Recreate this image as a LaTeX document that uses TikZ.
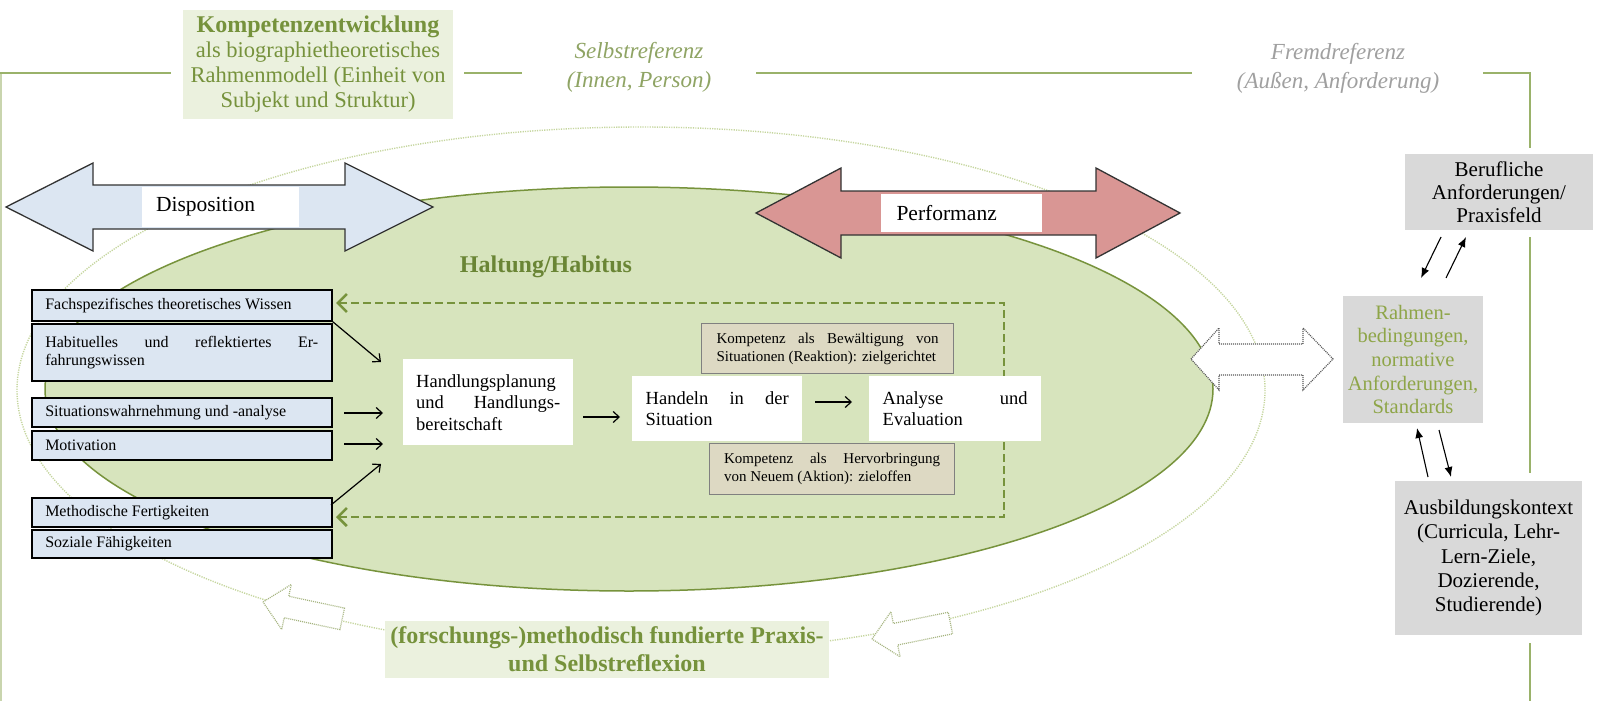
\documentclass[tikz,border=0pt]{standalone}
\usepackage{fontspec}
\setmainfont{Liberation Serif}
\usetikzlibrary{arrows.meta}
\setlength{\parindent}{0pt}
\definecolor{frameG}{HTML}{9AB26A}
\definecolor{frameL}{HTML}{C9D5AE}
\definecolor{oliveD}{HTML}{77933C}
\definecolor{titleG}{HTML}{76923C}
\definecolor{habG}{HTML}{6A8535}
\definecolor{selbstG}{HTML}{8FA464}
\definecolor{fremdG}{HTML}{A0A0A0}
\definecolor{ellF}{HTML}{D7E4BD}
\definecolor{ltG}{HTML}{EBF1DE}
\definecolor{blueF}{HTML}{DCE6F2}
\definecolor{redF}{HTML}{D99694}
\definecolor{tanF}{HTML}{DDD9C3}
\definecolor{grayF}{HTML}{D9D9D9}
\definecolor{rahmenG}{HTML}{8EA548}
\definecolor{dotG}{HTML}{C5D69E}
\definecolor{arrG}{HTML}{A5B47F}
\newcommand{\fsz}[2]{\fontsize{#1}{#2}\selectfont}
\begin{document}
\begin{tikzpicture}[x=1pt,y=-1pt,
 lbox/.style={draw=black, line width=1.5pt, fill=blueF, anchor=north west, minimum width=300pt, text width=273pt, inner xsep=13.5pt, inner ysep=0pt, align=justify, font=\fsz{16}{18}},
 wbox/.style={fill=white, anchor=north west, inner xsep=13.5pt, inner ysep=0pt, align=justify, font=\fsz{18.5}{21.5}},
 kbox/.style={draw=black!50, line width=1.2pt, fill=tanF, anchor=north west, inner ysep=0pt, align=justify, font=\fsz{15}{18}},
 gbox/.style={fill=grayF, inner sep=0pt, align=center},
 frame/.style={draw=frameG, line width=2pt},
 thinarr/.style={draw=black, line width=1.2pt, -{Straight Barb[length=6pt,width=11pt]}},
 solarr/.style={draw=black, line width=1.1pt, -{Latex[length=10pt,width=8pt]}},
 darr/.style={draw=black!80, line width=1.3pt},
 arrlabel/.style={fill=white, inner ysep=0pt, align=left, font=\fsz{21.5}{24}},
]
\fill[white] (0,0) rectangle (1598,701);
\useasboundingbox (0,0) rectangle (1598,701);

% frame
\draw[draw=frameL, line width=2pt] (1,701) -- (1,73);
\draw[frame] (0,73) -- (171,73);
\draw[frame] (464,73) -- (522,73);
\draw[frame] (756,73) -- (1192,73);
\draw[frame] (1483,73) -- (1530,73) -- (1530,148);
\draw[frame] (1530,237) -- (1530,473);
\draw[frame] (1530,643) -- (1530,701);

% ellipses
\draw[dotG, line width=1.4pt, dash pattern=on 1.2pt off 1.2pt] (641,390) ellipse [x radius=624, y radius=263];
\draw[oliveD, line width=1.5pt, fill=ellF] (629,389) ellipse [x radius=584, y radius=202];

% titles
\node[fill=ltG, minimum width=270pt, minimum height=109pt, inner sep=0pt, align=center, text=titleG, font=\fsz{22.5}{25}] (title) at (318,64.5)
 {{\bfseries\fsz{24}{25}Kompetenzentwicklung}\\als biographietheoretisches\\Rahmenmodell (Einheit von\\Subjekt und Struktur)};
\node[align=center, text=selbstG, font=\itshape\fsz{23}{29}] (selbst) at (639,67) {Selbstreferenz\\(Innen, Person)};
\node[align=center, text=fremdG, font=\itshape\fsz{23}{29}] (fremd) at (1338,68) {Fremdreferenz\\(Außen, Anforderung)};

% dashed feedback
\coordinate (dT) at (336,303);
\coordinate (dB) at (336,517);
\draw[oliveD, line width=2.6pt, dash pattern=on 8pt off 4pt, {Straight Barb[length=9pt,width=18pt]}-{Straight Barb[length=9pt,width=18pt]}] (dT) -- (1004,303) -- (1004,517) -- (dB);

% big double arrows
\draw[darr, fill=blueF] (6,207) -- (93,163) -- (93,185) -- (345,185) -- (345,163) -- (433,207) -- (345,251) -- (345,229) -- (93,229) -- (93,251) -- cycle;
\node[arrlabel, minimum height=40pt, text width=129pt, inner xsep=14pt] (disp) at (220.5,207) {Disposition};
\draw[darr, fill=redF] (756,213) -- (841,168) -- (841,191) -- (1096,191) -- (1096,168) -- (1180,213) -- (1096,258) -- (1096,235) -- (841,235) -- (841,258) -- cycle;
\node[arrlabel, minimum height=38pt, text width=129pt, inner xsep=16pt] (perf) at (961,213) {Performanz};

\draw[black!65, line width=1.2pt, dash pattern=on 1pt off 1pt, fill=white] (1191,359) -- (1219,328) -- (1219,344) -- (1303,344) -- (1303,328) -- (1333,359) -- (1303,390) -- (1303,375) -- (1219,375) -- (1219,390) -- cycle;

% bottom open arrows
\begin{scope}[shift={(263,602)}, rotate=-12]
\draw[arrG, line width=1.2pt, dash pattern=on 1pt off 1pt, fill=white] (0,0) -- (24,-23) -- (24,-11) -- (81,-11) -- (81,11) -- (24,11) -- (24,23) -- cycle;
\end{scope}
\begin{scope}[shift={(872,639)}, rotate=11.5]
\draw[arrG, line width=1.2pt, dash pattern=on 1pt off 1pt, fill=white] (0,0) -- (24,-23) -- (24,-11) -- (80,-11) -- (80,11) -- (24,11) -- (24,23) -- cycle;
\end{scope}

\node[text=habG, font=\bfseries\fsz{24}{28}] (hab) at (546,267) {Haltung/Habitus};

% left boxes
\node[lbox, minimum height=31pt] (fach) at (31,289) {Fachspezifisches theoretisches Wissen};
\node[lbox, minimum height=57pt] (habit) at (31,323) {Habituelles und reflektiertes Er-\linebreak fahrungswissen};
\node[lbox, minimum height=29pt] (sit) at (31,397) {Situationswahrnehmung und -analyse};
\node[lbox, minimum height=29pt] (mot) at (31,430) {Motivation};
\node[lbox, minimum height=29pt] (meth) at (31,497) {Methodische Fertigkeiten};
\node[lbox, minimum height=28pt] (soz) at (31,529) {Soziale Fähigkeiten};

% process boxes
\node[wbox, text width=144pt, inner xsep=13pt, minimum height=86pt] (hp) at (403,359) {Handlungsplanung\newline und Handlungs-\linebreak bereitschaft};
\node[wbox, text width=143pt, minimum height=65pt] (hd) at (632,376) {Handeln in der\linebreak Situation};
\node[wbox, text width=145pt, minimum height=65pt] (an) at (869,376) {Analyse und\linebreak Evaluation};
\node[kbox, text width=222pt, inner xsep=15pt, minimum height=50pt] (k1) at (701,323) {Kompetenz als Bewältigung von\linebreak Situationen (Reaktion): zielgerichtet};
\node[kbox, text width=216pt, inner xsep=14.5pt, minimum height=51pt] (k2) at (709,443) {Kompetenz als Hervorbringung\linebreak von Neuem (Aktion): zieloffen};

% left arrows
\coordinate (e1) at (381,362);
\coordinate (s2) at (344,413); \coordinate (e2) at (383,413);
\coordinate (s3) at (344,444); \coordinate (e3) at (383,444);
\coordinate (s4) at (331,505); \coordinate (e4) at (381,464);
\draw[thinarr] (fach.south east) -- (e1);
\draw[thinarr] (s2) -- (e2);
\draw[thinarr] (s3) -- (e3);
\draw[thinarr] (s4) -- (e4);
\coordinate (h1) at (583,417); \coordinate (h2) at (620,417);
\draw[thinarr] (h1) -- (h2);
\coordinate (h3) at (815,402); \coordinate (h4) at (852,402);
\draw[thinarr] (h3) -- (h4);

% right side
\node[gbox, minimum width=188pt, minimum height=76pt, font=\fsz{21}{23}] (ber) at (1499,192) {Berufliche\\Anforderungen/\\Praxisfeld};
\node[gbox, minimum width=140pt, minimum height=127pt, text=rahmenG, font=\fsz{20.5}{23.7}] (rah) at (1413,359.5) {Rahmen-\\bedingungen,\\normative\\Anforderungen,\\Standards};
\node[gbox, minimum width=187pt, minimum height=154pt, font=\fsz{21}{24.3}] (aus) at (1488.5,558) {Ausbildungskontext\\(Curricula, Lehr-\\Lern-Ziele,\\Dozierende,\\Studierende)};

\coordinate (b1) at (1441,237); \coordinate (b2) at (1421,278);
\coordinate (b3) at (1446,278); \coordinate (b4) at (1466,237);
\draw[solarr] (b1) -- (b2);
\draw[solarr] (b3) -- (b4);
\coordinate (r1) at (1428,477); \coordinate (r2) at (1417,428);
\coordinate (r3) at (1439,430); \coordinate (r4) at (1451,477);
\draw[solarr] (r1) -- (r2);
\draw[solarr] (r3) -- (r4);

% bottom label
\node[fill=ltG, minimum width=444pt, minimum height=57pt, inner sep=0pt, align=center, text=titleG, font=\bfseries\fsz{24}{28}] (refl) at (607,649.5) {(forschungs-)methodisch fundierte Praxis-\\und Selbstreflexion};
\end{tikzpicture}
\end{document}
